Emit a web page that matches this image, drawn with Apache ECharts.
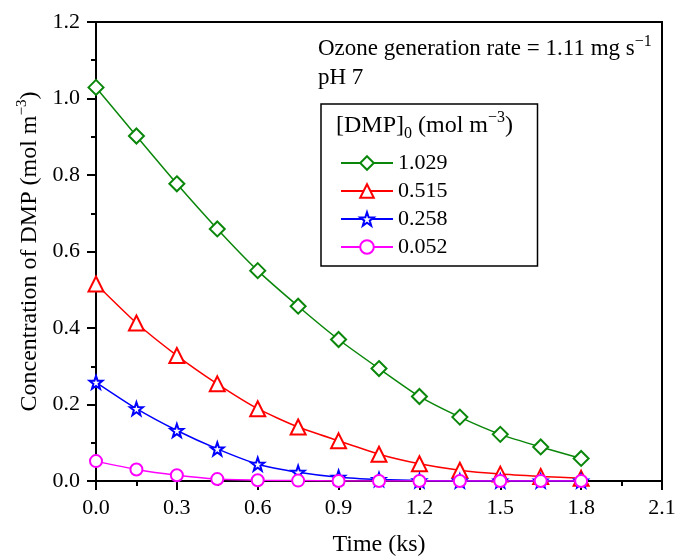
<!DOCTYPE html>
<html><head><meta charset="utf-8">
<script src="https://cdn.jsdelivr.net/npm/echarts@6/dist/echarts.min.js"></script>
<style>html,body{margin:0;padding:0;background:#fff}#c{width:676px;height:558px}</style>
</head><body><div id="c"></div>
<script>
const time = [0, 0.15, 0.30, 0.45, 0.60, 0.75, 0.90, 1.05, 1.20, 1.35, 1.50, 1.65, 1.80];
const dmp1029 = [1.029, 0.902, 0.777, 0.659, 0.550, 0.457, 0.370, 0.294, 0.221, 0.167, 0.122, 0.089, 0.059];
const dmp0515 = [0.515, 0.413, 0.328, 0.254, 0.189, 0.141, 0.105, 0.070, 0.045, 0.028, 0.018, 0.012, 0.007];
const dmp0258 = [0.258, 0.189, 0.132, 0.084, 0.044, 0.023, 0.010, 0.004, 0.001, 0.000, 0.000, 0.000, 0.000];
const dmp0052 = [0.052, 0.030, 0.015, 0.005, 0.002, 0.001, 0.000, 0.000, 0.000, 0.000, 0.000, 0.000, 0.000];
const seriesNames = ['1.029', '0.515', '0.258', '0.052'];
const xTicks = [0, 0.3, 0.6, 0.9, 1.2, 1.5, 1.8, 2.1];
const yTicks = [0, 0.2, 0.4, 0.6, 0.8, 1.0, 1.2];

const FONT = 'Liberation Serif';
const colors = ['#0a870a', '#ff0000', '#0000ff', '#ff00ff'];
const star = 'path://M0,-10 L2.35,-3.24 L9.51,-3.09 L3.8,1.24 L5.88,8.09 L0,4 L-5.88,8.09 L-3.8,1.24 L-9.51,-3.09 L-2.35,-3.24 Z';
const symbols = ['diamond', 'triangle', star, 'circle'];
const sizes = [15, 15, 13, 12];
const values = [dmp1029, dmp0515, dmp0258, dmp0052];

const chart = echarts.init(document.getElementById('c'), null, {renderer: 'canvas'});
const series = values.map((v, i) => ({
  name: seriesNames[i],
  type: 'line',
  data: time.map((t, j) => [t, v[j]]),
  symbol: symbols[i],
  symbolSize: sizes[i],
  smooth: 0.2,
  showAllSymbol: true,
  lineStyle: {color: colors[i], width: 1.5},
  itemStyle: {color: '#fff', borderColor: colors[i], borderWidth: 2},
  emphasis: {disabled: true},
  z: 2 + i
}));

chart.setOption({
  animation: false,
  backgroundColor: '#fff',
  grid: {left: 96, right: 14, top: 22, bottom: 77, show: true, borderColor: '#000', borderWidth: 2,
         containLabel: false, outerBoundsMode: 'none'},
  xAxis: {
    type: 'value', min: 0, max: 2.1, interval: 0.3,
    name: 'Time (ks)', nameLocation: 'middle', nameGap: 52,
    nameTextStyle: {fontFamily: FONT, fontSize: 24, color: '#000'},
    axisLine: {show: true, lineStyle: {color: '#000', width: 2}},
    axisTick: {show: true, length: 9, lineStyle: {color: '#000', width: 2}},
    minorTick: {show: true, splitNumber: 2, length: 5, lineStyle: {color: '#000', width: 2}},
    splitLine: {show: false},
    axisLabel: {fontFamily: FONT, fontSize: 22, color: '#000', margin: 16,
      formatter: v => xTicks.some(t => Math.abs(t - v) < 1e-6) ? v.toFixed(1) : ''}
  },
  yAxis: {
    type: 'value', min: 0, max: 1.2, interval: 0.2,
    name: 'Concentration of DMP (mol m{sup|−3})', nameLocation: 'middle', nameGap: 50,
    nameTextStyle: {fontFamily: FONT, fontSize: 24, color: '#000',
      rich: {sup: {fontFamily: FONT, fontSize: 15, color: '#000', verticalAlign: 'top', lineHeight: 30}}},
    axisLine: {show: true, lineStyle: {color: '#000', width: 2}},
    axisTick: {show: true, length: 9, lineStyle: {color: '#000', width: 2}},
    minorTick: {show: true, splitNumber: 2, length: 5, lineStyle: {color: '#000', width: 2}},
    splitLine: {show: false},
    axisLabel: {fontFamily: FONT, fontSize: 22, color: '#000', margin: 16,
      formatter: v => yTicks.some(t => Math.abs(t - v) < 1e-6) ? v.toFixed(1) : ''}
  },
  legend: {
    orient: 'vertical', left: 321, top: 104,
    padding: [48, 90, 8, 19],
    itemWidth: 52, itemHeight: 17, itemGap: 6,
    borderColor: '#000', borderWidth: 1.5,
    textStyle: {fontFamily: FONT, fontSize: 22, color: '#000', lineHeight: 22},
    data: seriesNames
  },
  graphic: [
    {type: 'text', left: 318, top: 34, z: 100,
     style: {text: 'Ozone generation rate = 1.11 mg s{sup|−1}', fontFamily: FONT, fontSize: 23, fill: '#000',
       rich: {sup: {fontFamily: FONT, fontSize: 16, fill: '#000', verticalAlign: 'top', lineHeight: 30}}}},
    {type: 'text', left: 318, top: 66, z: 100,
     style: {text: 'pH 7', fontFamily: FONT, fontSize: 23, fill: '#000'}},
    {type: 'text', left: 336, top: 110, z: 100,
     style: {text: '[DMP]{sub|0} (mol m{sup|−3})', fontFamily: FONT, fontSize: 24, fill: '#000',
       rich: {sub: {fontFamily: FONT, fontSize: 16, fill: '#000', verticalAlign: 'bottom', lineHeight: 32},
              sup: {fontFamily: FONT, fontSize: 16, fill: '#000', verticalAlign: 'top', lineHeight: 32}}}}
  ],
  series: series
});
</script></body></html>
